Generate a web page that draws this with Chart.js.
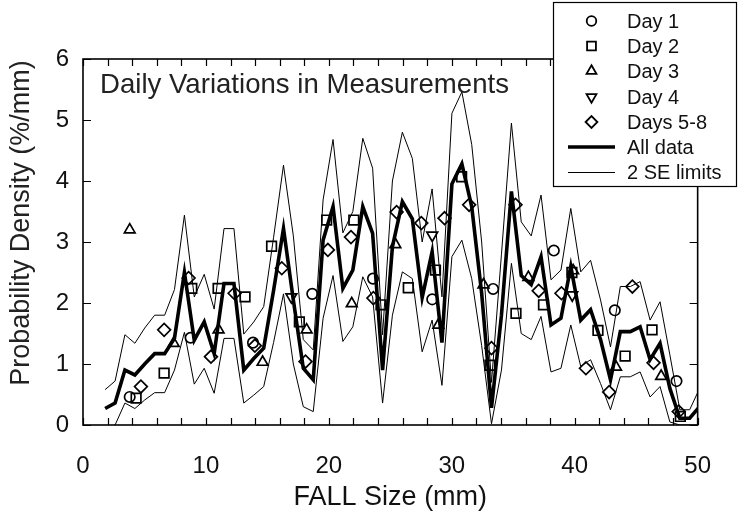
<!DOCTYPE html>
<html><head><meta charset="utf-8">
<script src="https://cdn.jsdelivr.net/npm/chart.js@4.4.1/dist/chart.umd.min.js"></script>
<style>html,body{margin:0;padding:0;background:#fff;}#wrap{position:relative;width:738px;height:514px;}</style>
</head><body><div id="wrap"><canvas id="c" width="738" height="514"></canvas></div>
<script>
// ---- data ----
const binSizes = [1.80,2.61,3.41,4.22,5.02,5.83,6.64,7.44,8.25,9.05,9.86,10.67,11.47,12.28,13.08,13.89,14.70,15.50,16.31,17.11,17.92,18.73,19.53,20.34,21.14,21.95,22.76,23.56,24.37,25.17,25.98,26.79,27.59,28.40,29.20,30.01,30.82,31.62,32.43,33.23,34.04,34.85,35.65,36.46,37.26,38.07,38.88,39.68,40.49,41.29,42.10,42.91,43.71,44.52,45.32,46.13,46.94,47.74,48.55,49.35,50.16];
const allData = [0.27,0.36,0.90,0.82,1.00,1.17,1.17,1.42,2.50,1.39,1.69,1.17,2.32,2.32,0.90,1.09,1.26,2.20,3.22,2.05,0.93,0.74,3.03,3.58,2.24,2.54,3.58,3.14,0.90,2.92,3.66,3.38,2.09,2.84,1.35,3.95,4.28,3.58,2.16,0.28,1.80,3.83,2.45,2.30,2.76,1.64,1.75,2.60,1.72,1.89,1.40,0.74,1.53,1.53,1.61,1.07,1.34,0.60,0.11,0.11,0.30];
const seUpper = [0.58,0.72,1.48,1.34,1.59,1.80,1.80,2.22,3.44,2.10,2.47,1.90,3.22,3.22,1.49,1.69,1.94,3.07,4.26,3.10,1.40,1.23,3.69,4.68,3.15,3.50,4.70,4.21,1.48,4.00,4.80,4.37,3.00,3.87,2.10,5.11,5.46,4.60,3.00,0.70,2.80,4.95,3.33,3.10,3.77,2.38,2.54,3.55,2.51,2.70,2.05,1.28,2.27,2.27,2.35,1.72,2.02,1.15,0.25,0.25,0.60];
const seLower = [-0.05,0.00,0.36,0.27,0.41,0.53,0.53,0.90,1.52,0.67,0.93,0.52,1.42,1.42,0.36,0.49,0.63,1.35,2.15,1.00,0.30,0.22,1.75,2.45,1.37,1.61,2.43,2.10,0.36,1.80,2.51,2.40,1.20,1.72,0.65,2.76,3.03,2.40,1.30,0.02,0.90,2.65,1.50,1.40,1.78,0.87,0.93,1.64,0.96,1.07,0.68,0.25,0.79,0.79,0.87,0.46,0.63,0.05,0.00,0.00,0.00];

const day1Size = [3.80,8.75,13.83,18.65,23.59,28.41,33.36,38.30,43.26,48.28];
const day1Density = [0.46,1.43,1.35,2.15,2.40,2.06,2.23,2.86,1.88,0.72];
const day2Size = [4.32,6.60,8.85,10.99,13.18,15.34,17.60,19.82,22.03,24.24,26.46,28.67,30.80,33.10,35.22,37.46,39.77,41.89,44.10,46.29,48.59];
const day2Density = [0.44,0.85,2.24,2.24,2.10,2.93,1.69,3.36,3.36,1.97,2.25,2.54,4.07,0.98,1.83,1.97,2.50,1.55,1.13,1.56,0.14];
const day3Size = [3.80,7.38,11.03,14.61,18.19,21.86,25.41,28.91,32.58,36.23,39.87,43.36,47.03];
const day3Density = [3.20,1.34,1.56,1.03,1.56,1.99,2.96,1.64,2.30,2.42,2.53,0.95,0.80];
const day4Size = [16.95,28.41,39.80];
const day4Density = [2.10,3.11,2.13];
const days58Size = [4.71,6.60,8.59,10.41,12.33,13.98,16.17,18.10,19.92,21.80,23.62,25.51,27.52,29.41,31.41,33.23,35.18,37.07,38.92,40.91,42.80,44.69,46.41,48.46];
const days58Density = [0.63,1.56,2.41,1.12,2.16,1.30,2.57,1.04,2.87,3.08,2.08,3.49,3.31,3.39,3.61,1.26,3.61,2.20,2.16,0.93,0.54,2.27,1.02,0.22];

const xMajorTicks = [0,10,20,30,40,50];
const xMinorTicks = [0,2,4,6,8,10,12,14,16,18,20,22,24,26,28,30,32,34,36,38,40,42,44,46,48,50];
const yTicks = [0,1,2,3,4,5,6];

const chartTitle = 'Daily Variations in Measurements';
const xTitle = 'FALL Size (mm)';
const yTitle = 'Probability Density (%/mm)';
const legendLabels = ['Day 1','Day 2','Day 3','Day 4','Days 5-8','All data','2 SE limits'];

// ---- build ----
const FONT = "'Liberation Sans', Arial, Helvetica, sans-serif";
function pts(xs, ys){ return xs.map((x,i)=>({x:x, y:ys[i]})); }
const markerBase = {showLine:false, borderColor:'#000', backgroundColor:'rgba(0,0,0,0)', pointBorderWidth:1.7, pointBackgroundColor:'rgba(0,0,0,0)', pointBorderColor:'#000'};
const markerDefs = [
  {data:pts(day1Size,day1Density), pointStyle:'circle', pointRadius:5.2, pointRotation:0},
  {data:pts(day2Size,day2Density), pointStyle:'rect', pointRadius:6.8, pointRotation:0},
  {data:pts(day3Size,day3Density), pointStyle:'triangle', pointRadius:6.2, pointRotation:0},
  {data:pts(day4Size,day4Density), pointStyle:'triangle', pointRadius:6.2, pointRotation:180},
  {data:pts(days58Size,days58Density), pointStyle:'rectRot', pointRadius:6.4, pointRotation:0}
];
const datasets = [
  {label:legendLabels[6]+' upper', data:pts(binSizes,seUpper), showLine:true, borderColor:'#000', borderWidth:1, pointRadius:0, tension:0, order:3},
  {label:legendLabels[6]+' lower', data:pts(binSizes,seLower), showLine:true, borderColor:'#000', borderWidth:1, pointRadius:0, tension:0, order:3},
  {label:legendLabels[5], data:pts(binSizes,allData), showLine:true, borderColor:'#000', borderWidth:3.6, pointRadius:0, tension:0, order:2, borderJoinStyle:'miter'}
];
markerDefs.forEach((m,i)=>datasets.push(Object.assign({label:legendLabels[i], order:1}, markerBase, m)));

function drawSymbol(ctx, style, r, rot, x, y, lw){
  if (Chart.helpers && Chart.helpers.drawPoint){
    ctx.save(); ctx.strokeStyle='#000'; ctx.fillStyle='rgba(0,0,0,0)'; ctx.lineWidth=lw;
    Chart.helpers.drawPoint(ctx, {pointStyle:style, radius:r, rotation:rot, borderWidth:lw}, x, y);
    ctx.restore();
  }
}

const decor = {
  id:'decor',
  afterDatasetsDraw(chart){
    const {ctx, chartArea:a, scales:{x,y}} = chart;
    ctx.save();
    ctx.strokeStyle='#000';
    ctx.lineWidth=1.2;
    ctx.beginPath();
    xMinorTicks.forEach(v=>{const px=Math.round(x.getPixelForValue(v))+0.5; ctx.moveTo(px,a.bottom); ctx.lineTo(px,a.bottom-7); ctx.moveTo(px,a.top); ctx.lineTo(px,a.top+7);});
    yTicks.forEach(v=>{const py=Math.round(y.getPixelForValue(v))+0.5; ctx.moveTo(a.left,py); ctx.lineTo(a.left+8,py); ctx.moveTo(a.right,py); ctx.lineTo(a.right-8,py);});
    ctx.stroke();
    ctx.lineWidth=1.6;
    ctx.strokeRect(a.left, a.top, a.right-a.left, a.bottom-a.top);
    // in-plot title
    ctx.fillStyle='#222';
    ctx.font='27.6px '+FONT;
    ctx.textBaseline='alphabetic'; ctx.textAlign='left';
    ctx.fillText(chartTitle, 100, 93);
    // y axis title
    ctx.font='27px '+FONT;
    ctx.save();
    ctx.translate(22, 223); ctx.rotate(-Math.PI/2);
    ctx.textAlign='center'; ctx.textBaseline='middle';
    ctx.fillText(yTitle, 0, 0);
    ctx.restore();
    // legend
    const bx=553.5, by=2.5, bw=183, bh=184;
    ctx.fillStyle='#fff'; ctx.fillRect(bx,by,bw,bh);
    ctx.lineWidth=1.2; ctx.strokeStyle='#000'; ctx.strokeRect(bx,by,bw,bh);
    ctx.font='20px '+FONT; ctx.fillStyle='#111'; ctx.textAlign='left'; ctx.textBaseline='middle';
    const rowY=[21,46,71,97,122,147,172];
    const symX=591.5, txtX=627;
    markerDefs.forEach((m,i)=>{
      drawSymbol(ctx, m.pointStyle, m.pointRadius*0.92, m.pointRotation, symX, rowY[i], 1.8);
      ctx.fillText(legendLabels[i], txtX, rowY[i]+1);
    });
    ctx.strokeStyle='#000';
    ctx.lineWidth=3.6; ctx.beginPath(); ctx.moveTo(568,rowY[5]); ctx.lineTo(615,rowY[5]); ctx.stroke();
    ctx.fillText(legendLabels[5], txtX, rowY[5]+1);
    ctx.lineWidth=1; ctx.beginPath(); ctx.moveTo(568,rowY[6]+0.5); ctx.lineTo(615,rowY[6]+0.5); ctx.stroke();
    ctx.fillText(legendLabels[6], txtX, rowY[6]+1);
    ctx.restore();
  }
};

new Chart(document.getElementById('c'), {
  type:'scatter',
  data:{datasets},
  options:{
    responsive:false, animation:false, devicePixelRatio:1,
    layout:{padding:{left:0,right:15,top:59,bottom:0}},
    plugins:{legend:{display:false}, tooltip:{enabled:false}, title:{display:false}},
    scales:{
      x:{type:'linear', min:0, max:50,
         afterFit(s){s.height=89;},
         afterBuildTicks(s){s.ticks = xMajorTicks.map(v=>({value:v}));},
         grid:{display:false, drawTicks:false}, border:{display:false},
         ticks:{font:{family:FONT,size:24}, color:'#111', padding:27, maxRotation:0, autoSkip:false},
         title:{display:true, text:xTitle, font:{family:FONT,size:27}, color:'#111', padding:{top:0,bottom:0}}},
      y:{type:'linear', min:0, max:6,
         afterFit(s){s.width=83;},
         afterBuildTicks(s){s.ticks = yTicks.map(v=>({value:v}));},
         grid:{display:false, drawTicks:false}, border:{display:false},
         ticks:{font:{family:FONT,size:24}, color:'#111', padding:14},
         title:{display:false}}
    }
  },
  plugins:[decor]
});
</script></body></html>
